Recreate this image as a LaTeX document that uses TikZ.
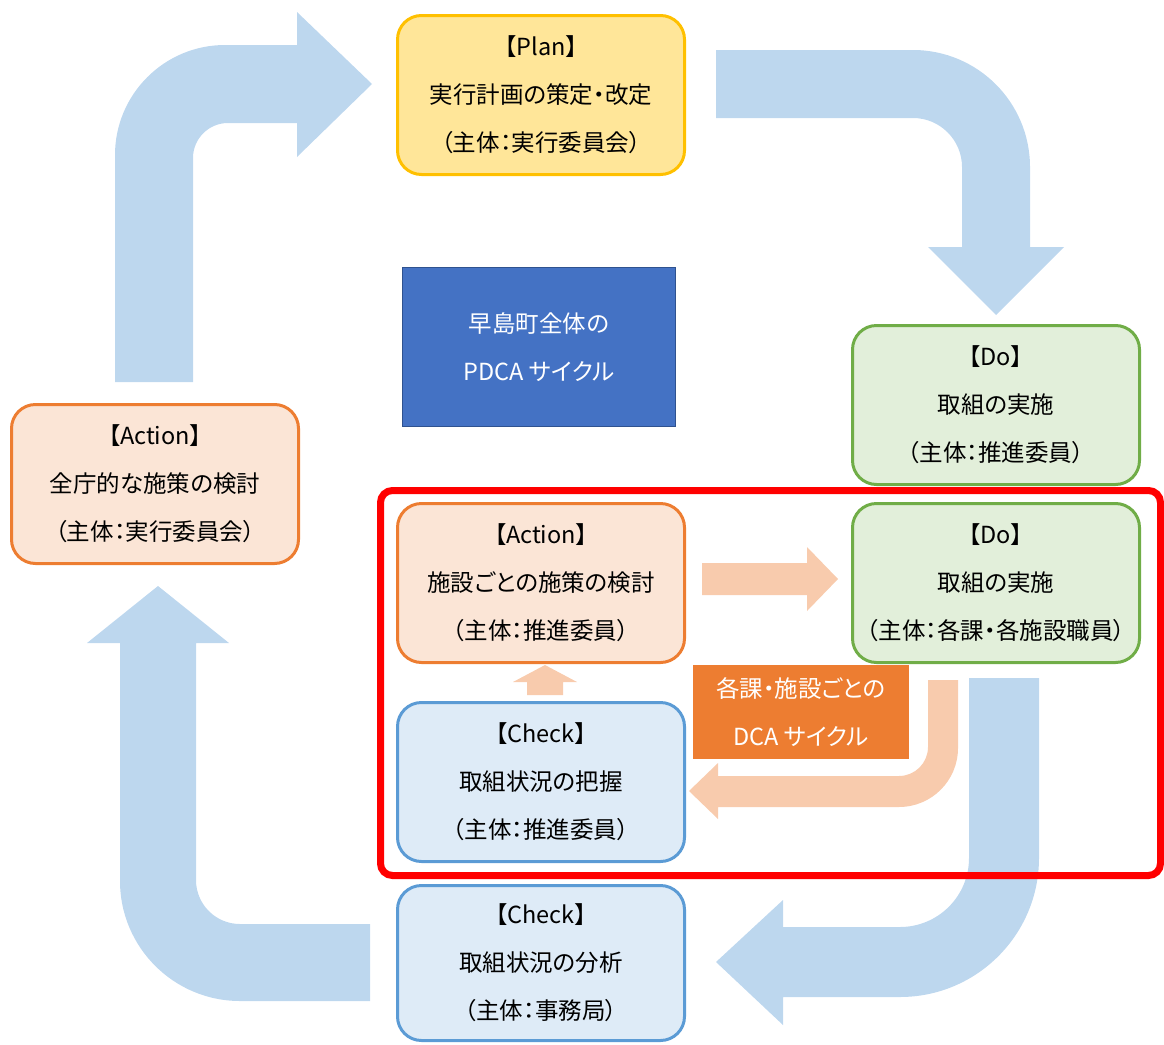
\documentclass[tikz,border=0pt]{standalone}
\usepackage{fontspec}
\newfontfamily\jp[RawFeature=+palt]{Noto Sans CJK JP}
\definecolor{bluearrow}{HTML}{BDD7EE}
\definecolor{peach}{HTML}{F8CBAD}
\definecolor{planfill}{HTML}{FFE699}
\definecolor{plandraw}{HTML}{FFC000}
\definecolor{dofill}{HTML}{E2EFDA}
\definecolor{dodraw}{HTML}{70AD47}
\definecolor{actfill}{HTML}{FBE5D6}
\definecolor{actdraw}{HTML}{ED7D31}
\definecolor{chkfill}{HTML}{DEEBF7}
\definecolor{chkdraw}{HTML}{5B9BD5}
\definecolor{centerfill}{HTML}{4472C4}
\definecolor{centerdraw}{HTML}{2F528F}
\definecolor{dcafill}{HTML}{ED7D31}
\begin{document}
\begin{tikzpicture}[x=1pt,y=-1pt,
  box/.style={rounded corners=24pt, line width=3pt, minimum width=287pt, minimum height=159pt,
    inner sep=0pt, align=center, text=black, font=\jp\fontsize{23.5}{48}\selectfont},
  planbox/.style={box, fill=planfill, draw=plandraw},
  dobox/.style={box, fill=dofill, draw=dodraw},
  actbox/.style={box, fill=actfill, draw=actdraw},
  chkbox/.style={box, fill=chkfill, draw=chkdraw},
  bigarrow/.style={fill=bluearrow, draw=none},
  smallarrow/.style={fill=peach, draw=none},
  label/.style={inner sep=0pt, align=center, text=white, font=\jp\fontsize{23.5}{48}\selectfont}
]
\useasboundingbox (0,0) rectangle (1164,1044);

% big blue cycle arrows
\path[bigarrow] (115,382) -- (115,155) .. controls (115,94.3) and (164.3,45) .. (225,45)
  -- (297,45) -- (297,12) -- (372,84) -- (297,157) -- (297,123) -- (228,123)
  .. controls (208.7,123) and (193,138.7) .. (193,158) -- (193,382) -- cycle;
\path[bigarrow] (716,50) -- (913,50) .. controls (977.6,50) and (1030,102.4) .. (1030,167)
  -- (1030,247) -- (1064,247) -- (996,315) -- (928,247) -- (962,247) -- (962,167)
  .. controls (962,140) and (940,118) .. (913,118) -- (716,118) -- cycle;
\path[bigarrow] (969,678) -- (1039,678) -- (1039,858) .. controls (1039,934.7) and (976.7,997) .. (900,997)
  -- (783,997) -- (783,1025) -- (716,962) -- (783,900) -- (783,927) -- (900,927)
  .. controls (938.1,927) and (969,896.1) .. (969,858) -- cycle;
\path[bigarrow] (370,924) -- (240,924) .. controls (215.7,924) and (196,904.3) .. (196,880)
  -- (196,643) -- (229,643) -- (158,586) -- (87,643) -- (120,643) -- (120,881)
  .. controls (120,947.2) and (173.8,1001) .. (240,1001) -- (370,1001) -- cycle;

% small peach arrows
\path[smallarrow] (702,563) -- (807,563) -- (807,547) -- (838,579) -- (807,611) -- (807,595) -- (702,595) -- cycle;
\path[smallarrow] (928,680) -- (958,680) -- (958,748) .. controls (958,780.6) and (931.6,807) .. (899,807)
  -- (718,807) -- (718,819) -- (689,791) -- (718,763) -- (718,776) -- (899,776)
  .. controls (915,776) and (928,763) .. (928,747) -- cycle;
\path[smallarrow] (527,695) -- (527,682) -- (513,682) -- (545,665) -- (577,682) -- (563,682) -- (563,695) -- cycle;

% boxes
\node[planbox] (plan) at (541,95) {【Plan】\\実行計画の策定・改定\\（主体：実行委員会）};
\node[dobox] (do) at (996,405) {【Do】\\取組の実施\\（主体：推進委員）};
\node[actbox] (action) at (155,484) {【Action】\\全庁的な施策の検討\\（主体：実行委員会）};
\node[actbox] (action2) at (541,583) {【Action】\\施設ごとの施策の検討\\（主体：推進委員）};
\node[dobox] (do2) at (996,583) {【Do】\\取組の実施\\（主体：各課・各施設職員）};
\node[chkbox] (check2) at (541,782) {【Check】\\取組状況の把握\\（主体：推進委員）};
\node[chkbox, minimum height=155pt] (check) at (541,963) {【Check】\\取組状況の分析\\（主体：事務局）};

% center label
\node[label, fill=centerfill, draw=centerdraw, line width=1pt, minimum width=273pt, minimum height=159pt] (pdca) at (539,347) {早島町全体の\\PDCA サイクル};
\node[label, fill=dcafill, minimum width=216pt, minimum height=94pt] (dca) at (801,712) {各課・施設ごとの\\DCA サイクル};

% red frame
\draw[red, line width=7pt, rounded corners=12pt] (380.5,490.5) rectangle (1160.5,875.5);
\end{tikzpicture}
\end{document}
